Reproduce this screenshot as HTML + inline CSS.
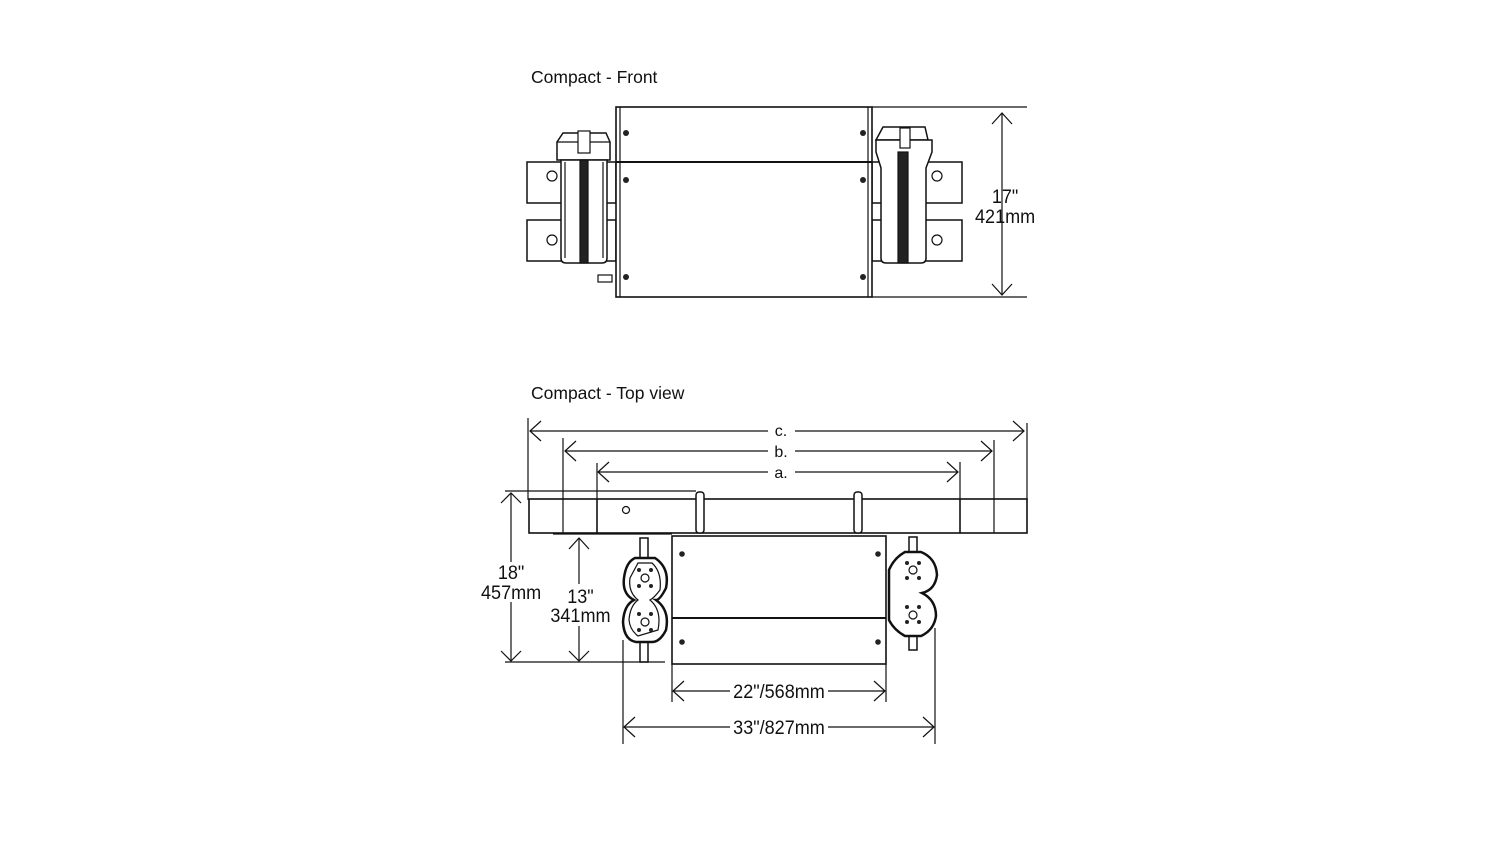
<!DOCTYPE html>
<html><head><style>html,body{margin:0;padding:0;background:#fff}svg{display:block}text{font-family:"Liberation Sans",sans-serif;fill:#111}</style></head><body>
<svg width="1502" height="845" viewBox="0 0 1502 845" xmlns="http://www.w3.org/2000/svg">
<g fill="none" stroke="#111" stroke-width="1.2">
<rect x="527" y="162" width="89" height="41" stroke-width="1.5"/>
<rect x="527" y="220" width="89" height="41" stroke-width="1.5"/>
<rect x="872" y="162" width="90" height="41" stroke-width="1.5"/>
<rect x="872" y="220" width="90" height="41" stroke-width="1.5"/>
<circle cx="552" cy="176" r="5"/><circle cx="552" cy="240" r="5"/>
<circle cx="937" cy="176" r="5"/><circle cx="937" cy="240" r="5"/>
<path d="M563 133 L606 133 L610 142 L610 160 L557 160 L557 142 Z" fill="#fff" stroke-width="1.5"/>
<line x1="557" y1="142" x2="610" y2="142"/>
<path d="M561 160 L607 160 L607 258 Q607 263 602 263 L566 263 Q561 263 561 258 Z" fill="#fff" stroke-width="1.5"/>
<line x1="565" y1="162" x2="565" y2="258"/><line x1="603" y1="162" x2="603" y2="258"/>
<rect x="580" y="160" width="8" height="103" fill="#222"/>
<rect x="578" y="131" width="12" height="22" fill="#fff"/>
<path d="M883 127 L925 127 L928 140 L876 140 Z" fill="#fff" stroke-width="1.5"/>
<path d="M876 140 L932 140 L932 152 L926 168 L926 258 Q926 263 921 263 L886 263 Q881 263 881 258 L881 168 L876 152 Z" fill="#fff" stroke-width="1.5"/>
<rect x="898" y="152" width="10" height="111" fill="#222"/>
<rect x="900" y="128" width="10" height="20" fill="#fff"/>
<rect x="616" y="107" width="256" height="190" fill="#fff" stroke-width="1.6"/>
<line x1="616" y1="162" x2="872" y2="162" stroke-width="2"/>
<line x1="620" y1="107" x2="620" y2="297"/><line x1="868" y1="107" x2="868" y2="297"/>
<rect x="598" y="275" width="14" height="7"/>
<line x1="872" y1="107" x2="1027" y2="107"/><line x1="872" y1="297" x2="1027" y2="297"/>
<line x1="1002" y1="113" x2="1002" y2="295"/>
<polyline points="992,124 1002,113 1012,124"/><polyline points="992,284 1002,295 1012,284"/>

<line x1="528" y1="418" x2="528" y2="500"/><line x1="1027" y1="423" x2="1027" y2="500"/>
<line x1="563" y1="438" x2="563" y2="500"/><line x1="994" y1="440" x2="994" y2="500"/>
<line x1="597" y1="463" x2="597" y2="500"/><line x1="960" y1="462" x2="960" y2="500"/>
<line x1="530" y1="431" x2="768" y2="431"/><line x1="795" y1="431" x2="1024" y2="431"/>
<polyline points="541,421 530,431 541,441"/><polyline points="1013,421 1024,431 1013,441"/>
<line x1="565" y1="451" x2="768" y2="451"/><line x1="795" y1="451" x2="992" y2="451"/>
<polyline points="576,441 565,451 576,461"/><polyline points="981,441 992,451 981,461"/>
<line x1="598" y1="472" x2="768" y2="472"/><line x1="795" y1="472" x2="958" y2="472"/>
<polyline points="609,462 598,472 609,482"/><polyline points="947,462 958,472 947,482"/>
<rect x="529" y="499" width="498" height="34" stroke-width="1.6"/>
<line x1="563" y1="499" x2="563" y2="533"/><line x1="597" y1="499" x2="597" y2="533" stroke-width="1.6"/>
<line x1="960" y1="499" x2="960" y2="533" stroke-width="1.6"/><line x1="994" y1="499" x2="994" y2="533"/>
<circle cx="626" cy="510" r="3.5"/>
<rect x="696" y="492" width="8" height="41" rx="3" fill="#fff" stroke-width="1.5"/>
<rect x="854" y="492" width="8" height="41" rx="3" fill="#fff" stroke-width="1.5"/>
<rect x="672" y="536" width="214" height="128" stroke-width="1.6"/>
<line x1="672" y1="618" x2="886" y2="618" stroke-width="2"/>
<rect x="640" y="538" width="8" height="20" stroke-width="1.5"/>
<rect x="640" y="640" width="8" height="22" stroke-width="1.5"/>
<path d="M635 558 L655 558 Q670 568 666 588 Q660 600 656 600 Q670 610 666 630 Q660 642 652 642 L636 642 Q624 640 623 622 Q624 605 634 600 Q622 594 624 578 Q626 562 635 558 Z" fill="#fff" stroke-width="2.5"/>
<path d="M638 563 L652 563 Q662 572 660 590 Q654 598 650 600 Q662 610 658 630 L638 636 Q630 630 629 620 Q630 606 638 600 Q628 592 630 578 Z"/>
<circle cx="645" cy="578" r="4"/><circle cx="645" cy="622" r="4"/>
<rect x="909" y="537" width="8" height="16" stroke-width="1.5"/>
<rect x="909" y="636" width="8" height="14" stroke-width="1.5"/>
<path d="M905 552 L921 552 Q936 558 937 575 Q935 590 922 593 Q936 600 936 616 Q934 630 921 636 L905 636 Q894 630 889 620 L889 570 Q894 558 905 552 Z" fill="#fff" stroke-width="2.5"/>
<circle cx="913" cy="570" r="4"/><circle cx="913" cy="615" r="4"/>
<line x1="505" y1="491" x2="696" y2="491"/><line x1="505" y1="662" x2="665" y2="662"/>
<line x1="511" y1="493" x2="511" y2="562"/><line x1="511" y1="602" x2="511" y2="661"/>
<polyline points="501,503 511,493 521,503"/><polyline points="501,651 511,661 521,651"/>
<line x1="553" y1="534" x2="672" y2="534"/>
<line x1="579" y1="538" x2="579" y2="584"/><line x1="579" y1="626" x2="579" y2="661"/>
<polyline points="569,549 579,538 589,549"/><polyline points="569,651 579,661 589,651"/>
<line x1="672" y1="664" x2="672" y2="702"/><line x1="886" y1="664" x2="886" y2="702"/>
<line x1="623" y1="640" x2="623" y2="744"/><line x1="935" y1="628" x2="935" y2="744"/>
<line x1="673" y1="691" x2="730" y2="691"/><line x1="828" y1="691" x2="885" y2="691"/>
<polyline points="684,681 673,691 684,701"/><polyline points="874,681 885,691 874,701"/>
<line x1="624" y1="727" x2="730" y2="727"/><line x1="828" y1="727" x2="934" y2="727"/>
<polyline points="635,717 624,727 635,737"/><polyline points="923,717 934,727 923,737"/>
</g>
<g fill="#222">
<circle cx="626" cy="133" r="3"/><circle cx="863" cy="133" r="3"/><circle cx="626" cy="180" r="3"/><circle cx="863" cy="180" r="3"/><circle cx="626" cy="277" r="3"/><circle cx="863" cy="277" r="3"/>
<circle cx="682" cy="554" r="2.8"/><circle cx="878" cy="554" r="2.8"/><circle cx="682" cy="642" r="2.8"/><circle cx="878" cy="642" r="2.8"/>
<circle cx="639" cy="570" r="2"/><circle cx="651" cy="570" r="2"/><circle cx="639" cy="586" r="2"/><circle cx="651" cy="586" r="2"/>
<circle cx="639" cy="614" r="2"/><circle cx="651" cy="614" r="2"/><circle cx="639" cy="630" r="2"/><circle cx="651" cy="630" r="2"/>
<circle cx="907" cy="563" r="2"/><circle cx="919" cy="563" r="2"/><circle cx="907" cy="578" r="2"/><circle cx="919" cy="578" r="2"/>
<circle cx="907" cy="607" r="2"/><circle cx="919" cy="607" r="2"/><circle cx="907" cy="622" r="2"/><circle cx="919" cy="622" r="2"/>
</g>
<text x="531" y="83" font-size="17.5">Compact - Front</text>
<text x="531" y="399" font-size="17.5">Compact - Top view</text>
<g font-size="19" text-anchor="middle" transform="scale(0.95,1)">
<text x="1058" y="203">17"</text><text x="1058" y="223">421mm</text>
<text x="538" y="579">18"</text><text x="538" y="599">457mm</text>
<text x="611" y="603">13"</text><text x="611" y="622">341mm</text>
<text x="820" y="698">22"/568mm</text>
<text x="820" y="734">33"/827mm</text>
</g>
<g font-size="16" text-anchor="middle">
<text x="781" y="436">c.</text><text x="781" y="457">b.</text><text x="781" y="478">a.</text>
</g>
</svg>
</body></html>
